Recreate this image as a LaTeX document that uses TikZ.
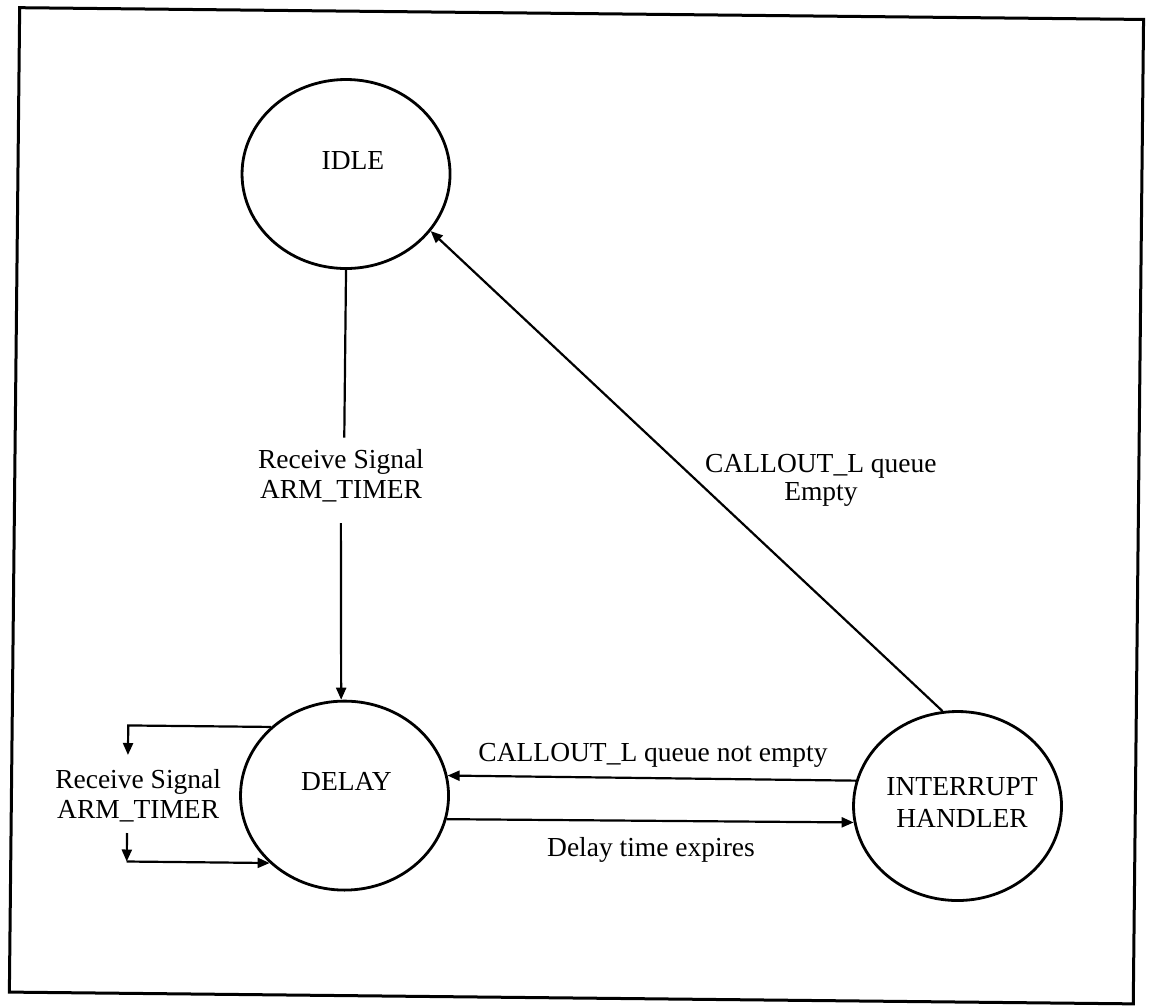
\documentclass[tikz,border=0pt]{standalone}
\usepackage{fontspec}
\setmainfont{Liberation Serif}
\usetikzlibrary{arrows.meta,shapes.geometric}

\begin{document}
\begin{tikzpicture}[x=1pt,y=-1pt,
  state/.style={ellipse, draw, line width=2.8pt, minimum width=208pt,
                minimum height=189pt, inner sep=0pt},
  txt/.style={font=\fontsize{27.5}{30}\selectfont, inner sep=0pt, align=center},
  conn/.style={line width=2.2pt},
  arr/.style={conn, -{Triangle[length=12pt,width=10pt]}},
  frame/.style={line width=3pt}]
\useasboundingbox (0,0) rectangle (1150,1005);
\fill[white] (0,0) rectangle (1150,1005);
\begin{scope}[rotate around={-0.6:(575,502)}]
  % outer frame
  \draw[frame] (14.5,13.5) rectangle (1138.5,998);

  % states
  \node[state] (idle)  at (342.6,176.4) {};
  \node[state] (delay) at (347.6,798)   {};
  \node[state] (intr)  at (960.7,802)   {};
  \node[txt, anchor=base] (idleName)  at (349.5,172.3) {IDLE};
  \node[txt, anchor=base] (delayName) at (349.5,792.4) {DELAY};
  \node[txt] (intrName) at (965.2,798.9) {INTERRUPT\\[2pt]HANDLER};

  % IDLE -> DELAY, broken around its label
  \node[txt, inner ysep=11.3pt] (sig) at (340.7,477.8) {Receive Signal\\ARM\_TIMER};
  \draw[conn] (idle.south) -- (idle.south |- sig.north);
  \draw[arr] ([yshift=-10pt]sig.south) -- (delay.92);

  % self loop on DELAY
  \coordinate (loopA) at (130.6,759.7);
  \coordinate (loopB) at (130.5,837.7);
  \coordinate (loopC) at (loopB |- delay.222);
  \draw[arr] (delay.137) -| (loopA);
  \draw[arr] (loopB) -- (loopC);
  \draw[arr] (loopC) -- (delay.222);
  \node[txt] (loopLbl) at (141.2,799.9) {Receive Signal\\ARM\_TIMER};

  % DELAY <-> INTERRUPT HANDLER
  \draw[arr] (intr.166) -- (delay.11);
  \node[txt, anchor=base] (notEmptyLbl) at (655.7,760.2) {CALLOUT\_L queue not empty};
  \draw[arr] (delay.347) -- (intr.189);
  \node[txt, anchor=base] (expiresLbl) at (654.7,855.2) {Delay time expires};

  % INTERRUPT HANDLER -> IDLE
  \draw[arr] (intr.99) -- (idle.326);
  \node[txt] (emptyLbl) at (820.7,478.1) {CALLOUT\_L queue\\[-2pt]Empty};
\end{scope}
\end{tikzpicture}
\end{document}
